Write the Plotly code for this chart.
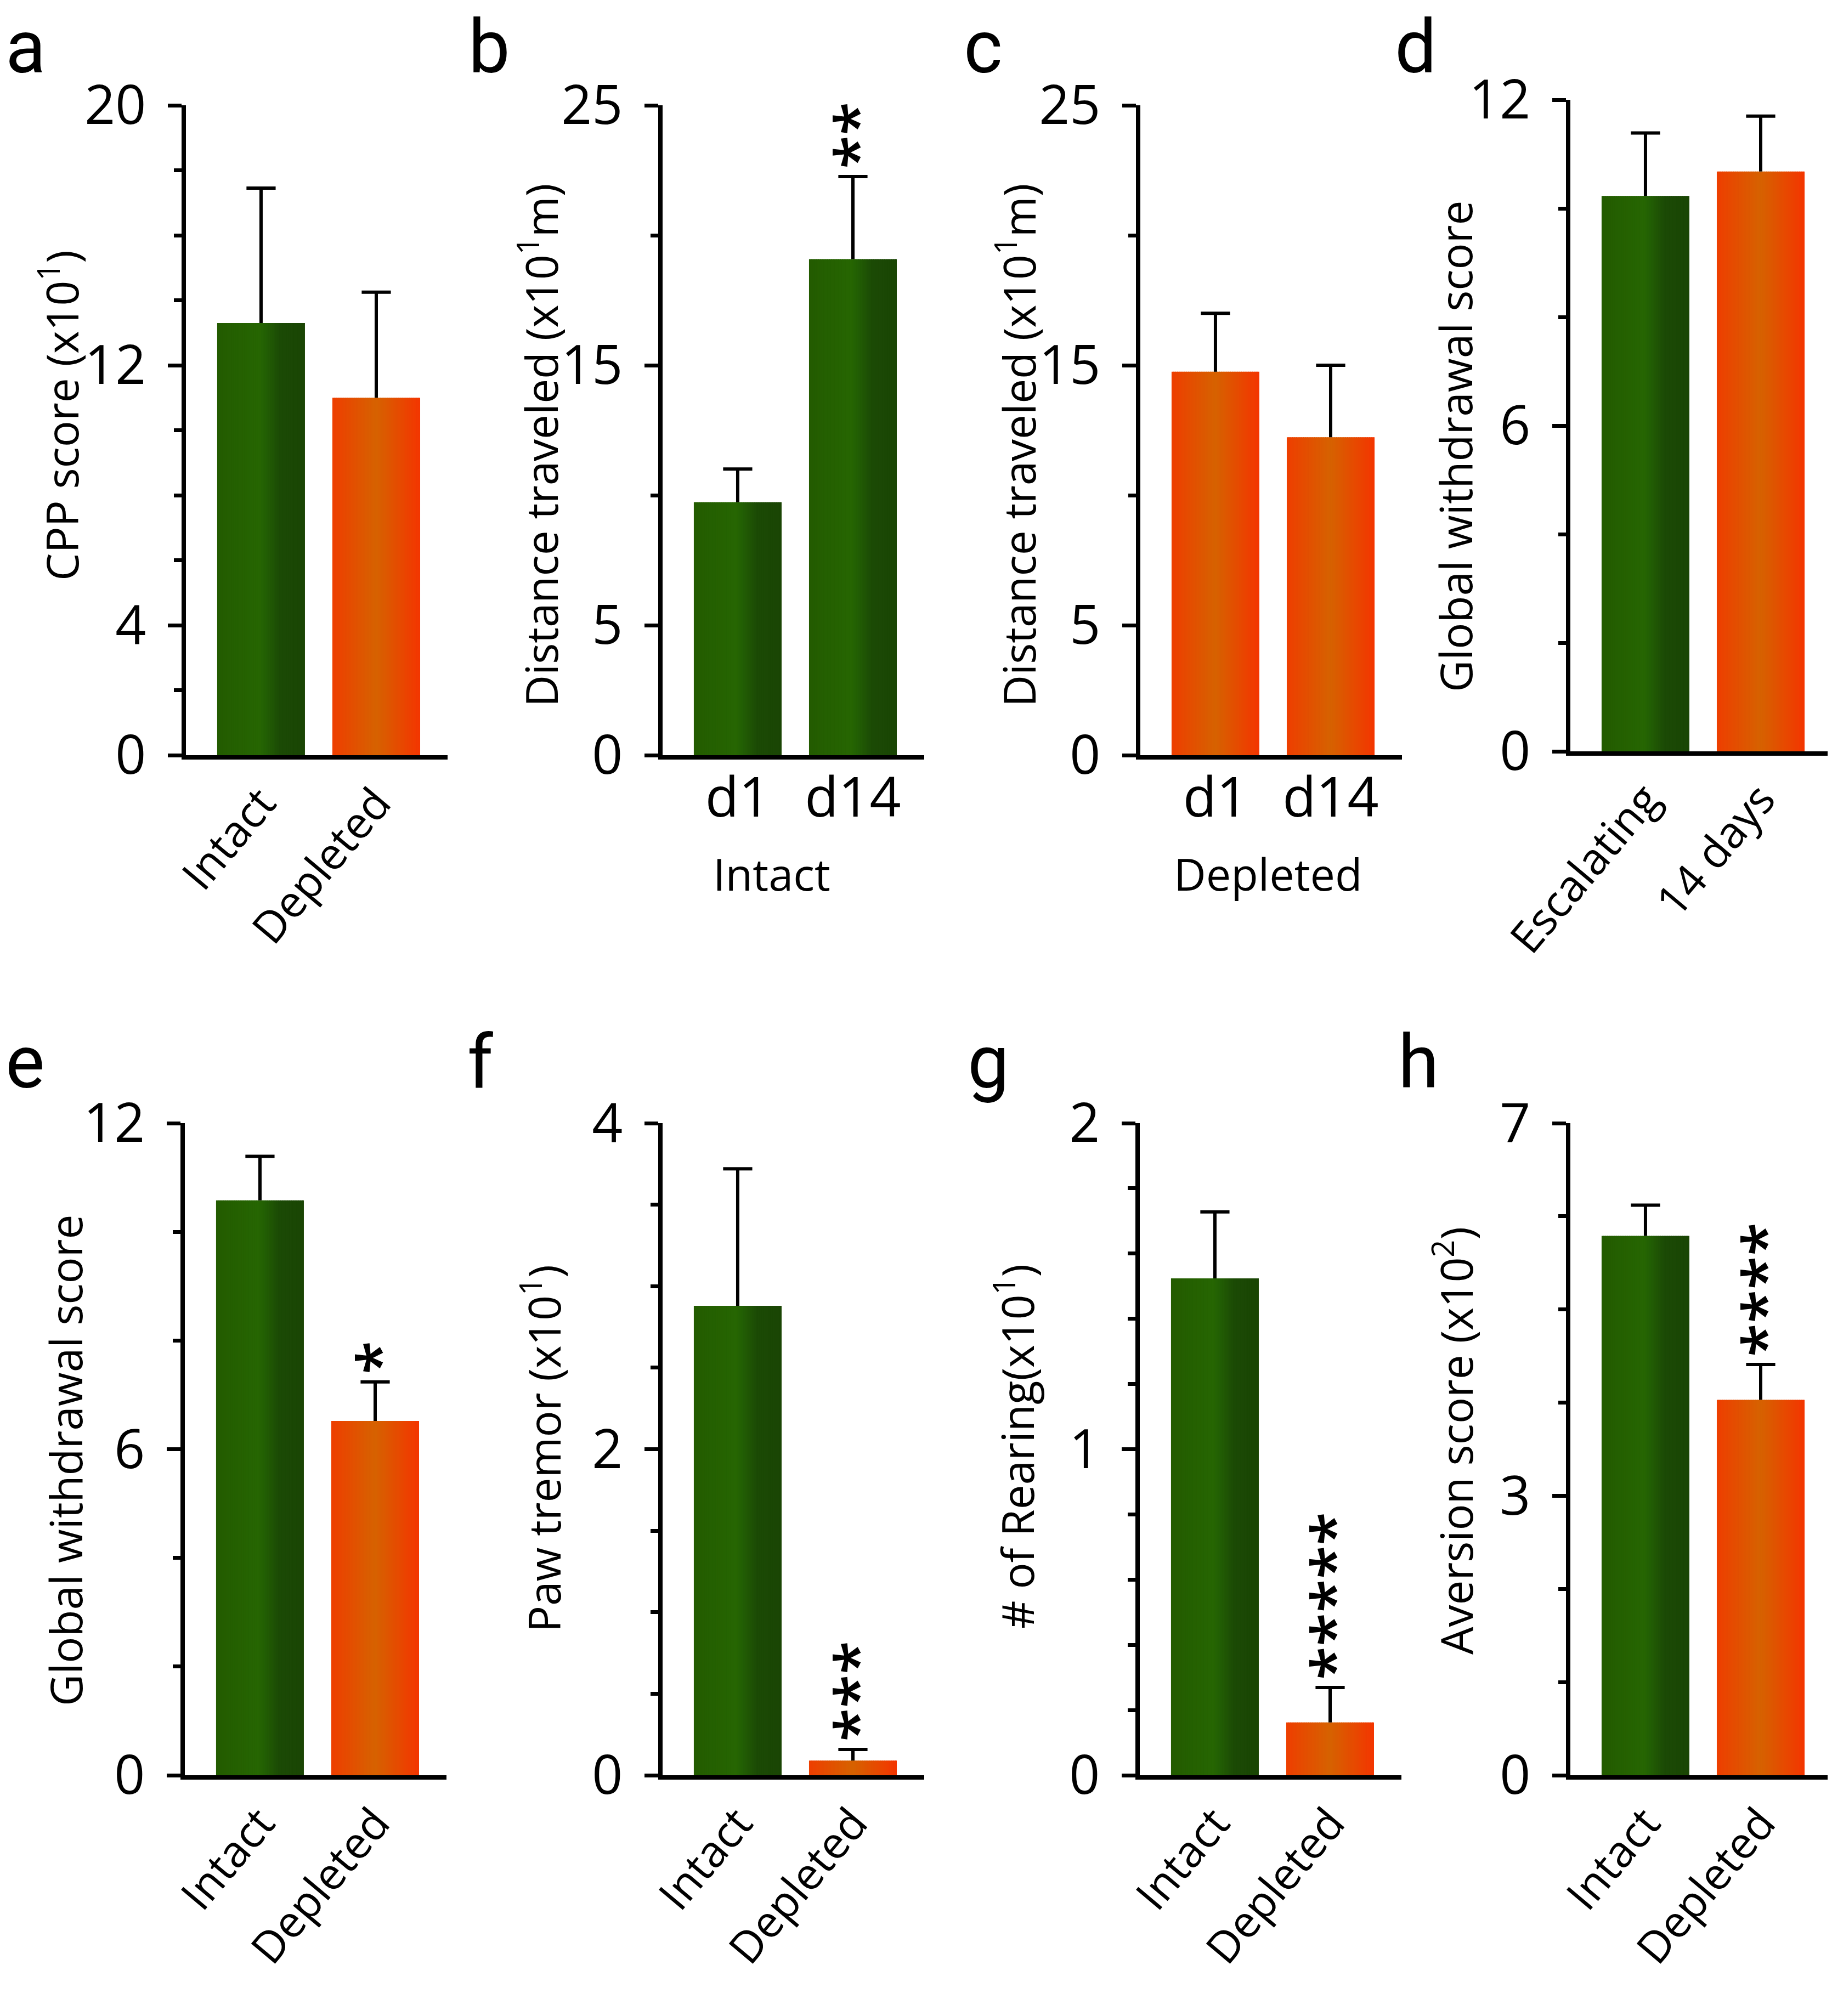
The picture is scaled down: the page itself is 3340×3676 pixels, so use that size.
import plotly.graph_objects as go

W, H = 3340, 3676

# ---------------- data ----------------
a_categories = ["Intact", "Depleted"]
a_values = [13.3, 11.0]
a_errors = [4.15, 3.25]
a_ticks = [0, 4, 12, 20]
a_stars = ["", ""]

b_categories = ["d1", "d14"]
b_values = [9.73, 19.08]
b_errors = [1.28, 3.18]
b_ticks = [0, 5, 15, 25]
b_stars = ["", "**"]

c_categories = ["d1", "d14"]
c_values = [14.75, 12.23]
c_errors = [2.25, 2.77]
c_ticks = [0, 5, 15, 25]
c_stars = ["", ""]

d_categories = ["Escalating", "14 days"]
d_values = [10.23, 10.68]
d_errors = [1.16, 1.02]
d_ticks = [0, 6, 12]
d_stars = ["", ""]

e_categories = ["Intact", "Depleted"]
e_values = [10.58, 6.52]
e_errors = [0.81, 0.72]
e_ticks = [0, 6, 12]
e_stars = ["", "*"]

f_categories = ["Intact", "Depleted"]
f_values = [2.88, 0.09]
f_errors = [0.84, 0.068]
f_ticks = [0, 2, 4]
f_stars = ["", "***"]

g_categories = ["Intact", "Depleted"]
g_values = [1.524, 0.162]
g_errors = [0.204, 0.107]
g_ticks = [0, 1, 2]
g_stars = ["", "*****"]

h_categories = ["Intact", "Depleted"]
h_values = [5.79, 4.03]
h_errors = [0.33, 0.38]
h_ticks = [0, 3, 7]
h_stars = ["", "****"]

# ---------------- styles ----------------
FONT = "Open Sans, Noto Sans, DejaVu Sans, sans-serif"
LETTER_FONT = "Roboto, Open Sans, sans-serif"
GREEN = [(0.0, (0x23, 0x5b, 0x00)), (0.48, (0x26, 0x66, 0x02)), (0.56, (0x22, 0x5e, 0x04)),
         (0.72, (0x1b, 0x4a, 0x05)), (1.0, (0x1a, 0x45, 0x04))]
ORANGE = [(0.0, (0xee, 0x3e, 0x00)), (0.5, (0xd6, 0x62, 0x00)), (1.0, (0xf4, 0x35, 0x00))]


def grad(stops, t):
    for (t0, c0), (t1, c1) in zip(stops, stops[1:]):
        if t0 <= t <= t1:
            u = (t - t0) / (t1 - t0) if t1 > t0 else 0
            c = [round(c0[k] + (c1[k] - c0[k]) * u) for k in range(3)]
            return "rgb(%d,%d,%d)" % tuple(c)
    return "rgb(%d,%d,%d)" % stops[-1][1]


panels = [
    dict(letter="a", cats=a_categories, vals=a_values, errs=a_errors, ticks=a_ticks, minor=2, ymax=20,
         stars=a_stars, fills=[GREEN, ORANGE], title="CPP score (x10<sup>1</sup>)", rot=True,
         ax=331, top=184, bot=1369, tx=100, ty=750, lx=0, ly=159),
    dict(letter="b", cats=b_categories, vals=b_values, errs=b_errors, ticks=b_ticks, minor=5, ymax=25,
         stars=b_stars, fills=[GREEN, GREEN], title="Distance traveled (x10<sup>1</sup>m)", rot=False,
         ax=1200, top=184, bot=1369, tx=973, ty=804, lx=844, ly=159, sub="Intact", subx=0.295),
    dict(letter="c", cats=c_categories, vals=c_values, errs=c_errors, ticks=c_ticks, minor=5, ymax=25,
         stars=c_stars, fills=[ORANGE, ORANGE], title="Distance traveled (x10<sup>1</sup>m)", rot=False,
         ax=2071, top=184, bot=1369, tx=1844, ty=804, lx=1747, ly=159, sub="Depleted", subx=0.457),
    dict(letter="d", cats=d_categories, vals=d_values, errs=d_errors, ticks=d_ticks, minor=2, ymax=12,
         stars=d_stars, fills=[GREEN, ORANGE], title="Global withdrawal score", rot=True,
         ax=2855, top=174, bot=1362, tx=2644, ty=806, lx=2533, ly=159),
    dict(letter="e", cats=e_categories, vals=e_values, errs=e_errors, ticks=e_ticks, minor=2, ymax=12,
         stars=e_stars, fills=[GREEN, ORANGE], title="Global withdrawal score", rot=True,
         ax=329, top=2040, bot=3229, tx=110, ty=2655, lx=0, ly=2010),
    dict(letter="f", cats=f_categories, vals=f_values, errs=f_errors, ticks=f_ticks, minor=0.5, ymax=4,
         stars=f_stars, fills=[GREEN, ORANGE], title="Paw tremor (x10<sup>1</sup>)", rot=True,
         ax=1200, top=2040, bot=3229, tx=978, ty=2633, lx=842, ly=2010),
    dict(letter="g", cats=g_categories, vals=g_values, errs=g_errors, ticks=g_ticks, minor=0.2, ymax=2,
         stars=g_stars, fills=[GREEN, ORANGE], title="# of Rearing(x10<sup>1</sup>)", rot=True,
         ax=2070, top=2040, bot=3229, tx=1841, ty=2629, lx=1754, ly=2010),
    dict(letter="h", cats=h_categories, vals=h_values, errs=h_errors, ticks=h_ticks, minor=1, ymax=7,
         stars=h_stars, fills=[GREEN, ORANGE], title="Aversion score (x10<sup>2</sup>)", rot=True,
         ax=2855, top=2040, bot=3229, tx=2641, ty=2619, lx=2539, ly=2010),
]

XR = [-0.652, 1.619]
AXW = 477
BW = 0.762
NS = 48

fig = go.Figure()
layout = dict(template="none", width=W, height=H, margin=dict(l=0, r=0, t=0, b=0, pad=0),
              paper_bgcolor="white", plot_bgcolor="white", showlegend=False,
              barmode="overlay", font=dict(family=FONT, color="black"))
annotations = []

for i, p in enumerate(panels, start=1):
    xa, ya = "x%d" % i, "y%d" % i
    xs = list(range(len(p["cats"])))
    for xi, v, stops in zip(xs, p["vals"], p["fills"]):
        offs = [-BW / 2 + k * BW / NS for k in range(NS)]
        wids = [min(BW / NS * 1.4, BW / 2 - o) for o in offs]
        cols = [grad(stops, (k + 0.5) / NS) for k in range(NS)]
        fig.add_trace(go.Bar(x=[xi] * NS, y=[v] * NS, offset=offs, width=wids,
                             marker=dict(color=cols, line=dict(width=0)),
                             xaxis=xa, yaxis=ya, hoverinfo="skip"))
    tops = [v + e for v, e in zip(p["vals"], p["errs"])]
    fig.add_trace(go.Scatter(x=xs, y=tops, mode="markers",
                             marker=dict(symbol="line-ew", size=38, color="black",
                                         line=dict(width=6, color="black")),
                             error_y=dict(type="data", array=[0] * len(xs), arrayminus=p["errs"],
                                          symmetric=False, color="black", thickness=6, width=0),
                             xaxis=xa, yaxis=ya, hoverinfo="skip"))

    x0 = p["ax"] / W
    x1 = min(1.0, (p["ax"] + AXW) / W)
    layout["xaxis%d" % i] = dict(
        domain=[x0, x1], anchor=ya, range=XR, showgrid=False, zeroline=False, automargin=False,
        showline=True, linewidth=8, linecolor="black", ticks="",
        tickmode="array", tickvals=xs, ticktext=p["cats"],
        tickangle=-50 if p["rot"] else 0,
        ticklabelstandoff=0 if p["rot"] else -16,
        tickfont=dict(family=FONT, size=80 if p["rot"] else 100, color="black"))
    layout["yaxis%d" % i] = dict(
        domain=[1 - p["bot"] / H, 1 - p["top"] / H], anchor=xa, range=[0, p["ymax"]],
        showgrid=False, zeroline=False, automargin=False, showline=True, linewidth=8, linecolor="black",
        ticks="outside", ticklen=25, tickwidth=7, tickcolor="black",
        tickmode="array", tickvals=p["ticks"],
        tickfont=dict(family=FONT, size=98, color="black"), ticklabelstandoff=20,
        minor=dict(tickmode="linear", tick0=0, dtick=p["minor"], ticks="outside",
                   ticklen=14, tickwidth=7, tickcolor="black", showgrid=False))

    for xi, t, s in zip(xs, tops, p["stars"]):
        if s:
            annotations.append(dict(x=xi, y=t, xref=xa, yref=ya, text=s, textangle=-90,
                                    showarrow=False, xanchor="center", yanchor="bottom",
                                    yshift=12, xshift=5,
                                    font=dict(family=FONT, size=112, color="black", weight=600)))
    annotations.append(dict(x=p["tx"] / W, y=1 - p["ty"] / H, xref="paper", yref="paper",
                            text=p["title"], textangle=-90, showarrow=False,
                            xanchor="center", yanchor="middle",
                            font=dict(family=FONT, size=80, color="black")))
    annotations.append(dict(x=p["lx"] / W, y=1 - p["ly"] / H, xref="paper", yref="paper",
                            text=p["letter"], showarrow=False, xanchor="left", yanchor="bottom",
                            font=dict(family=LETTER_FONT, size=135, color="black")))
    if "sub" in p:
        annotations.append(dict(x=p["subx"], y=1 - 1584 / H, xref=xa, yref="paper",
                                text=p["sub"], showarrow=False, xanchor="center", yanchor="middle",
                                font=dict(family=FONT, size=81, color="black")))

layout["annotations"] = annotations
fig.update_layout(**layout)
fig.write_html("out.html")
